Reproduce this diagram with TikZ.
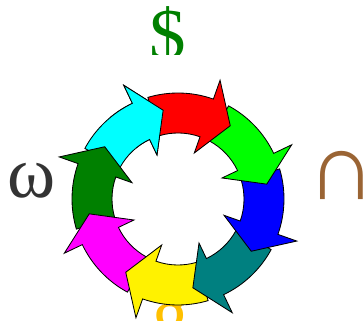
\documentclass[tikz,border=0pt]{standalone}
\usepackage{fontspec}
\setmainfont{Liberation Serif}
\definecolor{cteal}{HTML}{008080}
\definecolor{cdkgreen}{HTML}{008000}
\definecolor{ccyan}{HTML}{00FFFF}
\definecolor{cmagenta}{HTML}{FF00FF}
\definecolor{cbrown}{HTML}{9A6434}
\definecolor{cgold}{HTML}{FFC000}
\definecolor{cdark}{HTML}{333333}
\tikzset{
  sym/.style={font=\fontsize{52}{60}\selectfont, inner sep=0pt, anchor=base, text=#1},
  piece/.style={draw=black, line width=0.6pt, fill=#1, line join=miter},
}
% one curved arrow of the ring: tip angle #1
\newcommand{\ringarrow}[2]{%
  \pgfmathsetmacro{\tl}{#1+52}\pgfmathsetmacro{\bb}{#1+16}%
  \draw[piece=#2] (\tl:2.65) arc[start angle=\tl, end angle=\bb, radius=2.65]
    -- (\bb:3.15) -- (#1:2.25) -- (\bb:1.22) -- (\bb:1.65)
    arc[start angle=\bb, end angle=\tl, radius=1.65] -- cycle;}

\begin{document}
\begin{tikzpicture}
  \useasboundingbox (0,0) rectangle (9.1,8);
  % labels round the ring
  \begin{scope}
    \clip (3.5,6.625) rectangle (5,8);
    \node[sym=cdkgreen] (dollar) at (4.2,6.5) {\$};
  \end{scope}
  \node[sym=cdark] (omega) at (0.78,3.05) {ω};
  \node[sym=cbrown, font=\fontsize{68}{76}\bfseries] (cap) at (8.55,3.0) {∩};
  \node[sym=cgold] (gee) at (4.275,-0.45) {g};
  % the ring
  \begin{scope}[shift={(4.45,3.025)}]
    \coordinate (c) at (0,0);
    \foreach \t/\col in {99.5/ccyan, 144.5/cdkgreen, -170.5/cmagenta, -125.5/yellow,
                         -80.5/cteal, -35.5/blue, 9.5/green, 54.5/red}
      \ringarrow{\t}{\col};
    % head of the cyan arrow goes over the red tail
    \begin{scope}
      \clip (c) -- (85:3.5) arc[start angle=85, end angle=130, radius=3.5] -- cycle;
      \ringarrow{99.5}{ccyan}
    \end{scope}
  \end{scope}
\end{tikzpicture}
\end{document}
